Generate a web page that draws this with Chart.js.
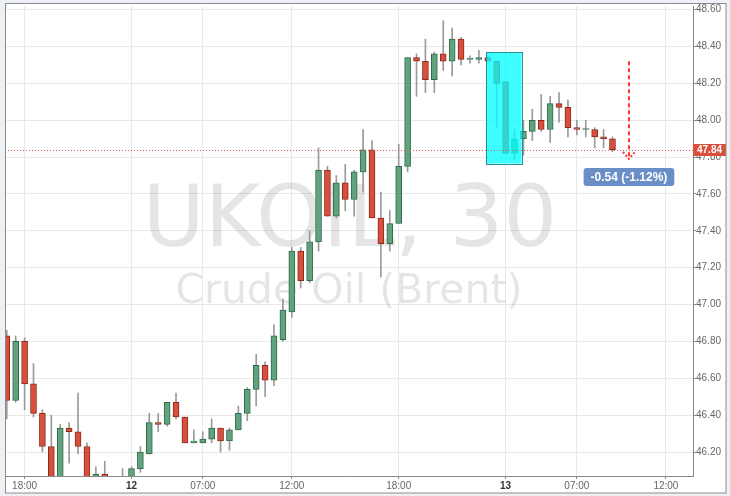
<!DOCTYPE html>
<html>
<head>
<meta charset="utf-8">
<script src="https://cdn.jsdelivr.net/npm/chart.js@4.4.0/dist/chart.umd.min.js"></script>
<style>
  html, body { margin: 0; padding: 0; background: #edf0f4; }
  #wrap { width: 730px; height: 496px; }
</style>
</head>
<body>
<div id="wrap"><canvas id="c" width="730" height="496"></canvas></div>
<script>
// UKOIL 30 min bars, index 0 = first bar visible at the left edge
const openP = [46.83, 46.48, 46.80, 46.57, 46.41, 46.23, 46.03, 46.33, 46.31, 46.23,
  46.05, 46.08, 46.06, 46.02, 46.05, 46.11, 46.19, 46.36, 46.35, 46.47,
  46.39, 46.25, 46.25, 46.27, 46.33, 46.26, 46.32, 46.41, 46.54, 46.67,
  46.59, 46.81, 46.96, 47.29, 47.13, 47.34, 47.73, 47.48, 47.66, 47.57,
  47.72, 47.84, 47.47, 47.33, 47.44, 47.75, 48.34, 48.32, 48.22, 48.36,
  48.32, 48.44, 48.33, 48.33, 48.34, 48.32, 48.21, 47.82, 47.90, 47.94,
  48.00, 47.95, 48.09, 48.07, 47.96, 47.95, 47.95, 47.91, 47.90];
const highP = [46.86, 46.83, 46.82, 46.68, 46.43, 46.40, 46.35, 46.36, 46.52, 46.25,
  46.12, 46.15, 46.06, 46.11, 46.12, 46.23, 46.41, 46.41, 46.47, 46.52,
  46.39, 46.32, 46.31, 46.38, 46.33, 46.33, 46.45, 46.55, 46.73, 46.69,
  46.89, 47.03, 47.31, 47.31, 47.40, 47.85, 47.75, 47.70, 47.76, 47.73,
  47.95, 47.89, 47.61, 47.51, 47.87, 48.34, 48.36, 48.44, 48.37, 48.54,
  48.50, 48.45, 48.35, 48.38, 48.35, 48.32, 48.21, 47.95, 48.00, 48.06,
  48.14, 48.13, 48.15, 48.11, 48.00, 48.00, 47.96, 47.95, 47.91];
const lowP = [46.38, 46.47, 46.43, 46.39, 46.20, 46.00, 46.00, 46.14, 46.19, 46.02,
  46.02, 46.02, 45.98, 45.99, 46.03, 46.09, 46.19, 46.31, 46.34, 46.38,
  46.25, 46.25, 46.25, 46.25, 46.20, 46.21, 46.32, 46.37, 46.45, 46.50,
  46.56, 46.80, 46.93, 47.09, 47.12, 47.29, 47.48, 47.47, 47.51, 47.48,
  47.61, 47.47, 47.15, 47.29, 47.44, 47.72, 48.13, 48.15, 48.15, 48.27,
  48.24, 48.30, 48.31, 48.31, 48.32, 47.96, 47.82, 47.78, 47.81, 47.89,
  47.94, 47.88, 47.99, 47.91, 47.92, 47.91, 47.85, 47.85, 47.83];
const closeP = [46.48, 46.80, 46.57, 46.41, 46.23, 46.03, 46.33, 46.31, 46.23, 46.05,
  46.08, 46.06, 46.02, 46.05, 46.11, 46.20, 46.36, 46.35, 46.47, 46.39,
  46.25, 46.26, 46.27, 46.33, 46.26, 46.32, 46.41, 46.54, 46.67, 46.59,
  46.83, 46.97, 47.29, 47.13, 47.34, 47.73, 47.48, 47.66, 47.57, 47.72,
  47.84, 47.47, 47.33, 47.44, 47.75, 48.34, 48.32, 48.22, 48.36, 48.32,
  48.44, 48.33, 48.33, 48.34, 48.32, 48.20, 47.82, 47.90, 47.94, 48.00,
  47.95, 48.09, 48.07, 47.96, 47.95, 47.95, 47.91, 47.90, 47.84];

const xTickIdx = [2, 14, 22, 32, 44, 56, 64, 74];
const xTickText = ["18:00", "12", "07:00", "12:00", "18:00", "13", "07:00", "12:00"];
const yTicks = [46.2, 46.4, 46.6, 46.8, 47.0, 47.2, 47.4, 47.6, 47.8, 48.0, 48.2, 48.4, 48.6];

// drawings placed on the chart (bar index / price)
const boxIdx = [53.8, 57.8];
const boxPrice = [47.765, 48.37];
const arrowIdx = 69.85;
const arrowPrice = [48.32, 47.79];
const changeText = "-0.54 (-1.12%)";
const lastPrice = closeP[closeP.length - 1];

const UP = "#62a27e", UP_EDGE = "#2f6b4b";
const DN = "#d8503c", DN_EDGE = "#8a2a1c";
const isUp = closeP.map((c, i) => c >= openP[i]);

const overlay = {
  id: "overlay",
  beforeDraw(chart) {
    const ctx = chart.ctx;
    ctx.save();
    ctx.fillStyle = "#fff";
    ctx.fillRect(5, 3, 721, 490);
    ctx.restore();
  },
  beforeDatasetsDraw(chart) {
    const { ctx, chartArea: a } = chart;
    const cx = (a.left + a.right) / 2;
    ctx.save();
    ctx.fillStyle = "rgba(0,0,0,0.10)";
    ctx.textAlign = "center";
    ctx.font = "85px 'DejaVu Sans'";
    ctx.fillText("UKOIL, 30", cx + 1, a.top + 240);
    ctx.font = "41px 'DejaVu Sans'";
    ctx.fillText("Crude Oil (Brent)", cx, a.top + 297);
    ctx.restore();
  },
  afterDatasetsDraw(chart) {
    const { ctx, chartArea: a, scales: { x, y } } = chart;
    ctx.save();
    ctx.beginPath();
    ctx.rect(a.left, a.top, a.right - a.left, a.bottom - a.top);
    ctx.clip();

    // highlight box
    const bx0 = x.getPixelForValue(boxIdx[0]), bx1 = x.getPixelForValue(boxIdx[1]);
    const by0 = y.getPixelForValue(boxPrice[1]), by1 = y.getPixelForValue(boxPrice[0]);
    ctx.fillStyle = "rgba(0,255,255,0.76)";
    ctx.fillRect(bx0, by0, bx1 - bx0, by1 - by0);
    ctx.strokeStyle = "#2a8f8f";
    ctx.lineWidth = 1;
    ctx.strokeRect(Math.round(bx0) + 0.5, Math.round(by0) + 0.5, Math.round(bx1 - bx0), Math.round(by1 - by0));

    // last price line
    const py = Math.round(y.getPixelForValue(lastPrice)) + 0.5;
    ctx.strokeStyle = "#e05a5a";
    ctx.lineWidth = 1;
    ctx.setLineDash([1, 2]);
    ctx.beginPath();
    ctx.moveTo(a.left, py);
    ctx.lineTo(a.right, py);
    ctx.stroke();

    // dashed arrow
    const ax = x.getPixelForValue(arrowIdx);
    const ay0 = y.getPixelForValue(arrowPrice[0]), ay1 = y.getPixelForValue(arrowPrice[1]);
    ctx.strokeStyle = "#ff3535";
    ctx.lineWidth = 2;
    ctx.setLineDash([4, 3]);
    ctx.beginPath();
    ctx.moveTo(ax, ay0);
    ctx.lineTo(ax, ay1);
    ctx.stroke();
    ctx.setLineDash([2, 2]);
    ctx.beginPath();
    ctx.moveTo(ax - 6, ay1 - 7);
    ctx.lineTo(ax, ay1);
    ctx.lineTo(ax + 6, ay1 - 7);
    ctx.stroke();
    ctx.setLineDash([]);

    // change label
    ctx.font = "bold 12px 'Liberation Sans', Arial";
    const w = ctx.measureText(changeText).width + 14, h = 18;
    const lx = ax - w / 2, ly = ay1 + 9;
    ctx.fillStyle = "#6a8fc7";
    ctx.beginPath();
    ctx.roundRect(lx, ly, w, h, 3);
    ctx.fill();
    ctx.fillStyle = "#fff";
    ctx.textAlign = "center";
    ctx.textBaseline = "middle";
    ctx.fillText(changeText, ax, ly + h / 2 + 0.5);
    ctx.restore();
  },
  afterDraw(chart) {
    const { ctx, chartArea: a, scales: { y } } = chart;
    ctx.save();
    // price tag on the axis
    const py = Math.round(y.getPixelForValue(lastPrice));
    ctx.fillStyle = "#d8503c";
    ctx.fillRect(a.right, py - 6, 33, 12);
    ctx.fillStyle = "#fff";
    ctx.font = "bold 10px 'Liberation Sans', Arial";
    ctx.textBaseline = "middle";
    ctx.fillText(lastPrice.toFixed(2), a.right + 4, py + 0.5);
    // outer frame
    ctx.strokeStyle = "#8c8c8c";
    ctx.lineWidth = 1;
    ctx.strokeRect(5.5, 3.5, 720.5, 489.5);
    ctx.restore();
  }
};

new Chart(document.getElementById("c"), {
  type: "bar",
  data: {
    datasets: [
      {
        label: "body",
        data: closeP.map((c, i) => ({ x: i, y: [openP[i], c] })),
        backgroundColor: isUp.map((u) => (u ? UP : DN)),
        borderColor: isUp.map((u) => (u ? UP_EDGE : DN_EDGE)),
        borderWidth: 1,
        borderSkipped: false,
        barThickness: 6,
        minBarLength: 1,
        grouped: false,
        order: 1,
      },
      {
        label: "wick",
        data: highP.map((hv, i) => ({ x: i, y: [lowP[i], hv] })),
        backgroundColor: "#9a9a9a",
        barThickness: 1,
        grouped: false,
        order: 2,
      },
    ],
  },
  options: {
    responsive: false,
    animation: false,
    layout: { padding: { left: 5, top: 3, right: 0, bottom: 0 } },
    plugins: { legend: { display: false }, tooltip: { enabled: false } },
    scales: {
      x: {
        type: "linear",
        min: -0.2,
        max: 77.04,
        offset: false,
        afterBuildTicks: (s) => { s.ticks = xTickIdx.map((v) => ({ value: v })); },
        afterFit: (s) => { s.height = 20; },
        grid: { color: "#e9e9e9", tickColor: "#888", tickLength: 3, offset: false },
        border: { color: "#888" },
        ticks: {
          autoSkip: false,
          maxRotation: 0,
          padding: 1,
          color: (c) => (c.tick && c.tick.label.length === 2 ? "#333" : "#666"),
          font: (c) => ({ family: "'Liberation Sans', Arial", size: 10, weight: c.tick && c.tick.label.length === 2 ? "bold" : "normal" }),
          callback: (v) => { const k = xTickIdx.indexOf(v); return k >= 0 ? xTickText[k] : ""; },
        },
      },
      y: {
        position: "right",
        min: 46.07,
        max: 48.62,
        afterBuildTicks: (s) => { s.ticks = yTicks.map((v) => ({ value: v })); },
        afterFit: (s) => { s.width = 37; },
        grid: { color: "#e9e9e9", tickColor: "#888", tickLength: 3 },
        border: { color: "#888" },
        ticks: {
          padding: 0,
          color: "#666",
          font: { family: "'Liberation Sans', Arial", size: 10 },
          callback: (v) => Number(v).toFixed(2),
        },
      },
    },
  },
  plugins: [overlay],
});
</script>
</body>
</html>
